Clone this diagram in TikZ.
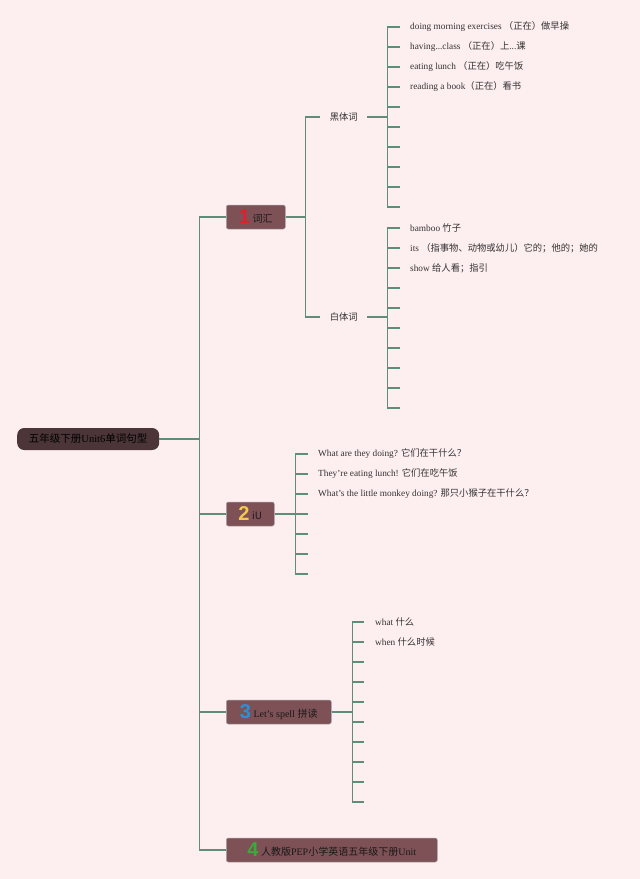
\documentclass[tikz,border=0pt]{standalone}
\usepackage{fontspec}
\setmainfont{Liberation Serif}
\newfontfamily\cjk{Noto Sans CJK SC}
\newfontfamily\numfont{Liberation Sans}
\definecolor{bg}{HTML}{FDEEF0}
\definecolor{ln}{HTML}{5E8E7A}
\definecolor{boxfill}{HTML}{7D5155}
\definecolor{rootfill}{HTML}{4B3538}
\definecolor{nred}{HTML}{E0202A}
\definecolor{nyellow}{HTML}{F2C94C}
\definecolor{nblue}{HTML}{2D8FD5}
\definecolor{ngreen}{HTML}{3BAA3B}
\newcommand\mynum[2]{\raisebox{-1.5pt}{\numfont\bfseries\fontsize{20}{20}\selectfont\color{#1}#2}}
\begin{document}
\begin{tikzpicture}[x=1pt,y=-1pt,
  conn/.style={draw=ln, line width=1.2pt},
  rootbox/.style={fill=rootfill, rounded corners=7pt, minimum height=22pt, minimum width=142pt, inner xsep=0pt, anchor=west, font=\fontsize{10.5}{12}\selectfont, text=black},
  branchbox/.style={fill=boxfill, draw=black!35, line width=0.5pt, rounded corners=2pt, minimum height=24pt, inner ysep=0pt, anchor=west, font=\fontsize{10}{12}\selectfont, text=black!90, inner xsep=0pt},
  subbox/.style={anchor=west, inner xsep=0pt, minimum width=47pt, font=\cjk\fontsize{9.3}{11}\selectfont, text=black!80},
  leaf/.style={anchor=west, inner xsep=10pt, inner ysep=1pt, font=\fontsize{9.3}{11}\selectfont, text=black!80},
]
\fill[bg] (0,0) rectangle (640,879);
\useasboundingbox (0,0) rectangle (640,879);

% root and branches
\node[rootbox] (root) at (17,439) {{\cjk 五年级下册}Unit6{\cjk 单词句型}};
\node[branchbox, minimum width=59pt] (b1) at (226,217) {\mynum{nred}{1} {\cjk 词汇}};
\node[branchbox, minimum width=48pt] (b2) at (226,514) {\mynum{nyellow}{2} {\cjk iU}};
\node[branchbox, minimum width=105pt] (b3) at (226,712) {\mynum{nblue}{3} Let's spell {\cjk 拼读}};
\node[branchbox, minimum width=211pt] (b4) at (226,850) {\mynum{ngreen}{4} {\cjk 人教版}PEP{\cjk 小学英语五年级下册}Unit};

\foreach \b in {b1,b2,b3,b4}
  \draw[conn] (root.east) -- ++(40,0) |- (\b.west);

% branch 1 sub topics
\node[subbox] (h) at (320,117) {黑体词};
\node[subbox] (w) at (320,317) {白体词};
\draw[conn] (b1.east) -- ++(20,0) |- (h.west);
\draw[conn] (b1.east) -- ++(20,0) |- (w.west);

% 黑体词 leaves
\node[leaf] (h1) at (400,27) {doing morning exercises {\cjk （正在）做早操}};
\node[leaf] (h2) at (400,47) {having...class {\cjk （正在）上}...{\cjk 课}};
\node[leaf] (h3) at (400,67) {eating lunch {\cjk （正在）吃午饭}};
\node[leaf] (h4) at (400,87) {reading a book{\cjk （正在）看书}};
\foreach \i/\y in {5/107,6/127,7/147,8/167,9/187,10/207}
  \coordinate (h\i) at (400,\y);
\draw[conn] (h.east) -- ++(20,0) |- (h1.west);
\draw[conn] (h.east) -- ++(20,0) |- (h2.west);
\draw[conn] (h.east) -- ++(20,0) |- (h3.west);
\draw[conn] (h.east) -- ++(20,0) |- (h4.west);
\foreach \i in {5,...,10}
  \draw[conn] (h.east) -- ++(20,0) |- (h\i);

% 白体词 leaves
\node[leaf] (w1) at (400,228) {bamboo {\cjk 竹子}};
\node[leaf] (w2) at (400,248) {its {\cjk （指事物、动物或幼儿）它的；他的；她的}};
\node[leaf] (w3) at (400,268) {show {\cjk 给人看；指引}};
\foreach \i/\y in {4/288,5/308,6/328,7/348,8/368,9/388,10/408}
  \coordinate (w\i) at (400,\y);
\draw[conn] (w.east) -- ++(20,0) |- (w1.west);
\draw[conn] (w.east) -- ++(20,0) |- (w2.west);
\draw[conn] (w.east) -- ++(20,0) |- (w3.west);
\foreach \i in {4,...,10}
  \draw[conn] (w.east) -- ++(20,0) |- (w\i);

% branch 2 leaves
\node[leaf] (s1) at (308,454) {What are they doing? {\cjk 它们在干什么？}};
\node[leaf] (s2) at (308,474) {They're eating lunch! {\cjk 它们在吃午饭}};
\node[leaf] (s3) at (308,494) {What's the little monkey doing? {\cjk 那只小猴子在干什么？}};
\foreach \i/\y in {4/514,5/534,6/554,7/574}
  \coordinate (s\i) at (308,\y);
\draw[conn] (b2.east) -- ++(21,0) |- (s1.west);
\draw[conn] (b2.east) -- ++(21,0) |- (s2.west);
\draw[conn] (b2.east) -- ++(21,0) |- (s3.west);
\foreach \i in {4,...,7}
  \draw[conn] (b2.east) -- ++(21,0) |- (s\i);

% branch 3 leaves
\node[leaf, inner xsep=11pt] (p1) at (364,622) {what {\cjk 什么}};
\node[leaf, inner xsep=11pt] (p2) at (364,642) {when {\cjk 什么时候}};
\foreach \i/\y in {3/662,4/682,5/702,6/722,7/742,8/762,9/782,10/802}
  \coordinate (p\i) at (364,\y);
\draw[conn] (b3.east) -- ++(21,0) |- (p1.west);
\draw[conn] (b3.east) -- ++(21,0) |- (p2.west);
\foreach \i in {3,...,10}
  \draw[conn] (b3.east) -- ++(21,0) |- (p\i);
\end{tikzpicture}
\end{document}
